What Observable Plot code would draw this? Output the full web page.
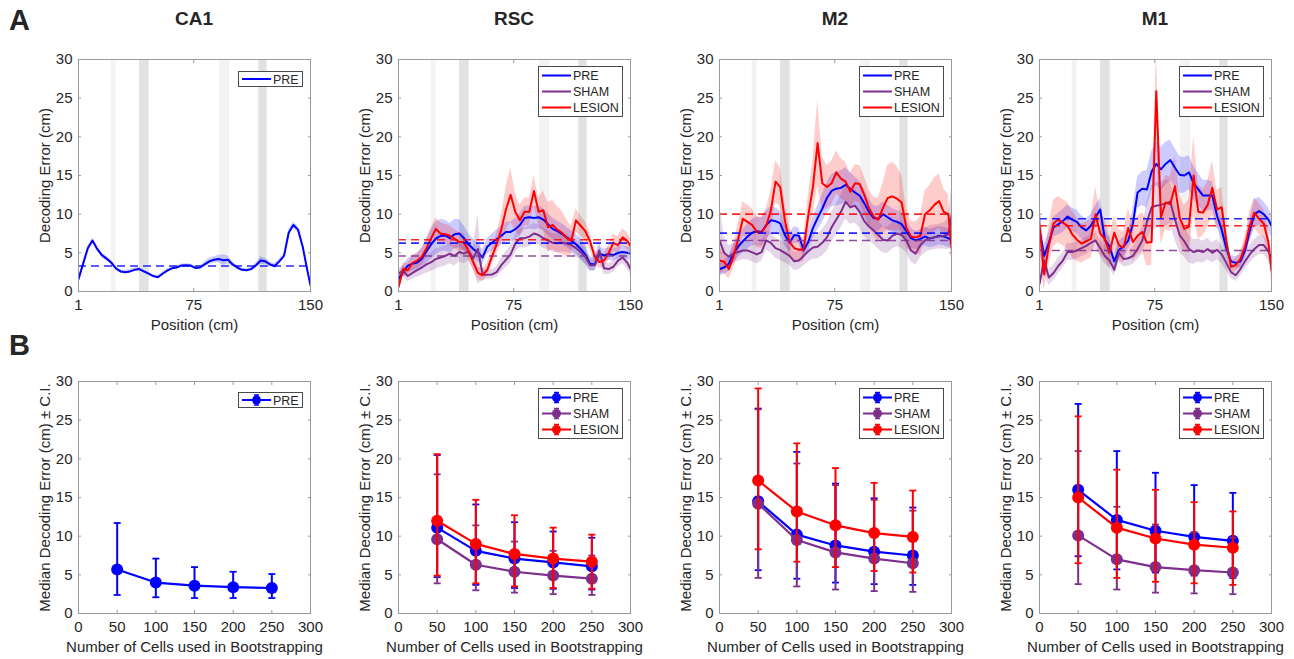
<!DOCTYPE html>
<html><head><meta charset="utf-8">
<script src="https://cdn.jsdelivr.net/npm/d3@7"></script>
<script src="https://cdn.jsdelivr.net/npm/@observablehq/plot@0.6"></script>
<style>
body{margin:0;background:#fff;}
#root{position:relative;width:1294px;height:659px;overflow:hidden;background:#fff;font-family:"Liberation Sans",Arial,Helvetica,sans-serif;color:#262626;}
.lbl{position:absolute;font-weight:bold;white-space:nowrap;}
</style></head><body><div id="root"></div>
<script>
// ---------------- data ----------------
const regions = ["CA1", "RSC", "M2", "M1"];
const groups = ["PRE", "SHAM", "LESION"];
const positions = [1,4,7,10,13,16,19,22,25,28,31,34,37,40,43,46,49,52,55,58,61,64,67,70,73,76,79,82,85,88,91,94,97,100,103,106,109,112,115,118,121,124,127,130,133,136,139,142,145,148,150];
const shadeStart = [22, 40.2, 91.7, 116.8];
const shadeEnd = [25.2, 46.4, 98.1, 122.1];
const shadeTone = ["light", "dark", "light", "dark"];
const posTicks = [1, 75, 150];
const errTicks = [0, 5, 10, 15, 20, 25, 30];
const cellTicks = [0, 50, 100, 150, 200, 250, 300];

// Panel A: decoding error by position (value, CI half-width)
const ca1Pre = [1.6,3.6,5.6,6.6,5.5,4.7,4.25,3.75,3.0,2.6, 2.5,2.6,2.8,2.9,2.6,2.3,2.0,1.85,2.3,2.7, 3.0,3.1,3.35,3.4,3.35,3.05,3.1,3.5,3.9,4.1, 4.2,4.05,4.1,3.5,3.1,2.8,2.75,2.9,3.4,4.0, 3.9,3.5,3.3,3.9,4.6,7.6,8.6,8.0,5.8,2.7, 0.8];
const ca1PreCI = [0.2,0.25,0.3,0.3,0.25,0.3,0.3,0.25,0.2,0.2, 0.2,0.2,0.2,0.2,0.2,0.2,0.2,0.2,0.2,0.2, 0.2,0.2,0.2,0.2,0.2,0.2,0.2,0.3,0.4,0.4, 0.5,0.7,0.5,0.3,0.3,0.2,0.2,0.2,0.3,0.5, 0.4,0.3,0.3,0.3,0.3,0.4,0.4,0.4,0.3,0.2, 0.2];

const rscPre = [1.6,2.5,3.35,3.6,3.75,4.25,5.2,6.1,6.85,7.2, 7.25,6.9,7.4,7.5,6.9,6.1,5.5,5.05,4.4,5.8, 6.3,6.75,7.2,7.7,7.7,8.05,8.6,9.5,9.6,9.5, 9.6,9.3,8.7,8.1,7.8,7.45,7.0,6.6,6.1,5.5, 4.8,3.6,3.5,4.9,4.65,4.85,4.7,5.0,5.1,5.0, 4.9];
const rscPreCI = [0.7,0.8,0.9,1.0,1.1,1.3,1.6,1.9,2.1,2.1, 2.0,1.9,1.9,1.8,1.6,1.4,1.3,1.2,1.0,1.0, 1.1,1.2,1.2,1.3,1.3,1.4,1.5,1.5,1.5,1.5, 1.5,1.4,1.4,1.4,1.3,1.3,1.3,1.3,1.3,1.3, 1.2,0.9,0.8,0.9,0.8,0.8,0.8,0.8,0.8,0.8, 0.8];
const rscSham = [2.3,2.7,2.0,2.4,2.75,3.1,3.5,3.8,4.2,4.4, 4.6,4.9,4.6,5.1,4.9,5.2,4.3,5.5,2.2,2.15, 2.2,2.5,3.4,4.1,4.8,6.2,6.9,6.9,7.1,7.5, 7.3,6.9,6.6,6.3,6.25,6.3,6.2,6.0,5.6,5.1, 4.5,3.4,3.4,5.3,3.0,2.9,3.2,4.0,4.4,3.7, 2.9];
const rscShamCI = [0.6,0.7,0.7,0.8,0.9,1.0,1.1,1.2,1.3,1.3, 1.3,1.3,1.3,1.3,1.3,1.2,1.5,4.5,0.8,0.6, 0.6,0.7,0.9,1.0,1.1,1.2,1.2,1.3,1.3,1.3, 1.3,1.3,1.2,1.2,1.2,1.2,1.2,1.1,1.1,1.0, 1.0,0.8,0.8,1.3,0.8,0.7,0.7,0.8,0.8,0.8, 0.7];
const rscLesion = [0.55,2.9,2.75,3.7,4.0,4.5,5.6,6.9,8.1,7.5, 7.4,7.2,6.8,6.4,6.4,5.2,3.8,2.4,2.1,2.8, 4.5,6.1,8.0,10.6,12.5,10.3,9.2,10.3,10.3,13.0, 10.3,10.5,8.3,8.6,8.0,7.6,6.9,6.6,9.2,8.5, 7.8,6.5,4.5,3.8,4.0,5.0,6.3,6.0,7.0,6.5, 5.9];
const rscLesionCI = [0.5,0.8,0.9,1.0,1.0,1.1,1.2,1.3,1.4,1.4, 1.3,1.3,1.2,1.2,1.1,1.0,0.9,0.8,0.8,0.9, 1.1,1.3,1.8,2.8,3.5,2.5,2.0,1.8,1.8,2.0, 1.8,2.5,3.2,3.2,3.0,2.8,2.4,1.8,1.5,1.3, 1.2,1.0,0.9,0.8,0.9,1.0,1.1,1.1,1.1,1.1, 1.0];

const m2Pre = [2.9,3.1,3.6,4.9,5.8,6.5,7.1,7.6,7.8,7.7, 8.6,9.2,9.1,8.8,7.3,6.3,7.3,7.2,5.3,6.4, 8.2,9.5,10.7,12.1,13.0,13.3,13.4,13.8,13.3,12.8, 12.4,11.4,10.3,9.5,9.4,10.0,9.6,9.2,9.0,8.7, 7.8,6.9,6.6,6.8,7.1,6.85,7.0,7.2,7.1,6.9, 6.6];
const m2PreCI = [0.8,0.9,1.0,1.2,1.4,1.5,1.6,1.7,1.8,1.8, 1.8,1.8,1.7,1.6,1.4,1.2,1.1,1.0,1.0,1.2, 1.4,1.6,1.8,2.0,2.1,2.2,2.2,2.2,2.1,2.0, 1.9,1.8,1.7,1.6,1.6,1.6,1.6,1.5,1.5,1.5, 1.4,1.3,1.2,1.2,1.2,1.2,1.2,1.2,1.2,1.2, 1.2];
const m2Sham = [6.6,5.0,4.5,4.9,5.1,5.3,5.3,5.05,4.8,5.1, 6.6,6.3,5.6,5.35,5.0,4.6,3.9,4.0,4.6,5.2, 5.7,5.8,6.3,7.0,8.3,9.3,10.3,11.6,10.9,11.1, 10.3,9.1,8.4,7.9,7.3,6.7,6.6,7.2,7.5,7.3, 6.6,5.3,4.9,6.0,6.6,6.9,7.0,7.1,7.2,7.4, 9.8];
const m2ShamCI = [5.0,2.0,1.4,1.3,1.2,1.2,1.2,1.2,1.2,1.2, 1.3,1.3,1.3,1.3,1.3,1.2,1.2,1.2,1.3,1.4, 1.5,1.6,1.7,1.8,1.9,2.0,2.1,2.2,2.2,2.2, 2.1,2.0,1.9,1.8,1.8,1.7,1.7,1.7,1.7,1.7, 1.6,1.5,1.5,1.6,1.6,1.6,1.6,1.6,1.7,2.0, 3.5];
const m2Lesion = [4.0,3.85,2.9,4.5,6.8,9.4,9.0,8.6,7.7,7.6, 8.5,10.5,14.2,13.5,9.2,6.4,5.6,5.4,5.4,9.8, 13.5,19.2,14.0,13.5,14.0,15.4,14.6,14.2,12.9,14.0, 13.9,12.5,10.8,9.7,9.3,10.8,12.1,12.3,12.0,11.5, 8.2,7.1,7.0,7.2,10.0,10.5,11.2,11.7,10.3,10.0, 5.7];
const m2LesionCI = [1.5,1.5,1.3,1.5,2.0,2.2,2.2,2.1,2.0,2.0, 2.2,2.5,2.7,2.5,2.2,1.8,1.6,1.5,1.6,2.5, 3.5,5.5,3.5,2.8,2.8,2.8,2.6,2.5,2.4,2.4, 2.4,2.4,2.3,2.5,2.8,3.2,4.2,4.4,4.2,3.5, 2.5,2.0,2.0,2.5,3.0,3.2,3.5,3.5,3.0,2.5, 1.5];

const m1Pre = [8.0,4.6,6.3,8.3,8.7,9.1,9.7,9.3,9.0,8.3, 7.9,8.5,9.6,10.6,6.7,5.8,3.9,5.4,5.8,6.6, 8.8,12.8,13.3,13.2,15.5,16.5,15.8,16.5,17.0,16.0, 15.1,15.0,15.4,14.0,13.2,12.4,12.4,12.4,9.8,8.0, 5.6,3.9,3.7,3.9,5.3,7.8,10.0,10.4,10.0,9.3, 8.5];
const m1PreCI = [3.0,1.5,1.3,1.3,1.4,1.5,1.5,1.5,1.5,1.5, 1.5,1.5,1.5,1.5,1.3,1.2,1.0,1.1,1.2,1.3, 1.8,2.0,2.2,2.4,2.6,2.8,2.8,2.8,2.6,2.5, 2.4,2.3,2.2,2.2,2.1,2.0,2.0,1.8,1.5,1.2, 1.0,0.8,0.8,0.9,1.2,1.5,1.8,1.8,1.6,1.5, 1.5];
const m1Sham = [1.0,4.0,1.8,2.4,3.3,4.0,5.1,5.1,5.3,5.6, 5.9,6.3,6.6,5.6,4.6,4.0,2.8,5.0,4.2,4.3, 4.6,5.5,6.6,9.0,10.9,11.1,11.2,11.4,11.6,9.3, 7.3,6.5,5.5,5.1,5.3,5.1,5.5,5.0,5.4,4.8, 3.7,2.5,2.1,2.9,3.9,4.8,5.5,6.0,6.0,5.2, 4.4];
const m1ShamCI = [1.0,1.5,1.0,1.0,1.0,1.0,1.1,1.1,1.1,1.1, 1.1,1.1,1.1,1.1,1.0,1.0,0.8,1.2,1.0,1.0, 1.1,1.4,1.8,2.4,2.8,3.0,3.0,3.0,2.8,2.6, 2.3,2.0,1.8,1.6,1.5,1.4,1.4,1.3,1.3,1.2, 1.0,0.8,0.8,0.9,1.0,1.1,1.2,1.2,1.2,1.2, 1.2];
const m1Lesion = [8.5,2.2,5.9,8.8,9.3,8.9,8.5,7.4,6.7,6.2, 6.5,6.8,10.0,7.5,6.8,5.0,7.6,6.0,5.7,8.2, 6.4,7.2,7.7,6.3,6.4,25.9,9.6,11.5,11.3,13.6, 9.6,8.1,8.4,15.0,10.3,10.2,11.2,13.4,10.6,10.9, 6.5,3.2,3.4,4.2,5.8,8.5,10.2,9.4,8.8,6.4, 2.7];
const m1LesionCI = [4.0,2.0,2.5,3.0,3.0,3.0,3.0,3.0,2.8,2.5, 2.5,2.5,3.5,2.8,2.5,2.0,2.2,2.0,2.0,2.5, 2.5,2.5,2.5,3.0,3.0,5.0,3.5,3.5,3.5,4.0, 3.0,3.0,3.5,5.0,3.5,3.0,3.0,3.5,2.5,2.5, 1.5,0.8,0.8,1.0,1.3,1.8,2.0,2.0,1.8,1.5, 1.5];

// dashed session means (PRE, SHAM, LESION)
const meansCA1 = [3.3];
const meansRSC = [6.25, 4.6, 6.7];
const meansM2 = [7.55, 6.6, 10.0];
const meansM1 = [9.4, 5.3, 8.5];

// Panel B: median error vs number of cells (value, lower CI, upper CI)
const cells = [50, 100, 150, 200, 250];
const bCA1Pre = [5.7, 4.0, 3.6, 3.4, 3.3];
const bCA1PreLo = [2.4, 2.1, 2.0, 2.0, 2.0];
const bCA1PreHi = [11.7, 7.1, 6.0, 5.4, 5.1];
const bRSCPre = [11.1, 8.1, 7.1, 6.6, 6.1];
const bRSCPreLo = [4.7, 3.7, 3.3, 3.2, 3.1];
const bRSCPreHi = [20.5, 14.1, 11.8, 10.6, 9.8];
const bRSCSham = [9.6, 6.3, 5.4, 4.9, 4.5];
const bRSCShamLo = [3.9, 3.0, 2.7, 2.5, 2.4];
const bRSCShamHi = [18.0, 11.4, 9.3, 8.1, 7.5];
const bRSCLesion = [12.0, 9.0, 7.7, 7.1, 6.7];
const bRSCLesionLo = [4.9, 3.9, 3.5, 3.3, 3.2];
const bRSCLesionHi = [20.6, 14.7, 12.7, 11.1, 10.2];
const bM2Pre = [14.5, 10.2, 8.8, 8.0, 7.5];
const bM2PreLo = [5.6, 4.5, 4.0, 3.8, 3.7];
const bM2PreHi = [26.5, 20.9, 16.8, 14.9, 13.7];
const bM2Sham = [14.2, 9.5, 7.9, 7.1, 6.5];
const bM2ShamLo = [4.6, 3.5, 3.1, 2.9, 2.8];
const bM2ShamHi = [26.4, 19.4, 16.6, 14.7, 13.3];
const bM2Lesion = [17.2, 13.2, 11.4, 10.4, 9.9];
const bM2LesionLo = [8.3, 6.7, 6.0, 5.5, 5.3];
const bM2LesionHi = [29.1, 22.0, 18.8, 16.9, 15.9];
const bM1Pre = [16.0, 12.1, 10.7, 9.9, 9.4];
const bM1PreLo = [7.4, 5.7, 5.3, 4.9, 4.6];
const bM1PreHi = [27.1, 21.0, 18.2, 16.6, 15.6];
const bM1Sham = [10.1, 7.0, 6.0, 5.6, 5.3];
const bM1ShamLo = [3.8, 3.1, 2.7, 2.6, 2.5];
const bM1ShamHi = [21.0, 13.8, 11.5, 10.5, 9.8];
const bM1Lesion = [15.0, 11.1, 9.7, 8.9, 8.5];
const bM1LesionLo = [6.5, 4.6, 4.1, 3.9, 3.7];
const bM1LesionHi = [25.5, 18.6, 16.0, 14.4, 13.2];

// ---------------- assembly ----------------
const seriesA = [
  [[ca1Pre, ca1PreCI]],
  [[rscPre, rscPreCI], [rscSham, rscShamCI], [rscLesion, rscLesionCI]],
  [[m2Pre, m2PreCI], [m2Sham, m2ShamCI], [m2Lesion, m2LesionCI]],
  [[m1Pre, m1PreCI], [m1Sham, m1ShamCI], [m1Lesion, m1LesionCI]]
];
const meansA = [meansCA1, meansRSC, meansM2, meansM1];
const seriesB = [
  [[bCA1Pre, bCA1PreLo, bCA1PreHi]],
  [[bRSCPre, bRSCPreLo, bRSCPreHi], [bRSCSham, bRSCShamLo, bRSCShamHi], [bRSCLesion, bRSCLesionLo, bRSCLesionHi]],
  [[bM2Pre, bM2PreLo, bM2PreHi], [bM2Sham, bM2ShamLo, bM2ShamHi], [bM2Lesion, bM2LesionLo, bM2LesionHi]],
  [[bM1Pre, bM1PreLo, bM1PreHi], [bM1Sham, bM1ShamLo, bM1ShamHi], [bM1Lesion, bM1LesionLo, bM1LesionHi]]
];

const FONT = '"Liberation Sans", Arial, Helvetica, sans-serif';
const INK = "#262626";
const AXIS = "#9a9a9a";
const COLORS = {PRE: "#0000ff", SHAM: "#7e2f8e", LESION: "#ff0000"};
const plotLefts = [78, 398, 719, 1039];
const rowTops = [59, 381];
const PW = 232, PH = 232;
const ML = 62, MR = 12, MT = 10, MB = 58;
const root = document.getElementById("root");

const shades = shadeStart.map((s, i) => ({start: s, end: shadeEnd[i], tone: shadeTone[i]}));

const capSymbol = {draw(ctx, size) { const w = Math.sqrt(size / Math.PI); ctx.moveTo(-w, 0); ctx.lineTo(w, 0); }};

function place(node, left, top) {
  node.style.position = "absolute";
  node.style.left = left + "px";
  node.style.top = top + "px";
  root.appendChild(node);
}

function axes(xTicks, xLabel, yLabel) {
  return [
    Plot.axisX({anchor: "bottom", ticks: xTicks, tickSize: -3, tickPadding: 11, stroke: AXIS, fill: INK, label: xLabel, labelAnchor: "center", labelOffset: 38, labelArrow: "none"}),
    Plot.axisX({anchor: "top", ticks: xTicks, tickSize: -3, tickFormat: () => "", label: null, stroke: AXIS}),
    Plot.axisY({anchor: "left", ticks: errTicks, tickSize: -3, tickPadding: 9, stroke: AXIS, fill: INK, label: yLabel, labelAnchor: "center", labelOffset: 39, labelArrow: "none"}),
    Plot.axisY({anchor: "right", ticks: errTicks, tickSize: -3, tickFormat: () => "", label: null, stroke: AXIS}),
    Plot.frame({stroke: AXIS, strokeWidth: 1})
  ];
}

function basePlot(xDomain, marks) {
  return Plot.plot({
    width: PW + ML + MR, height: PH + MT + MB,
    marginLeft: ML, marginRight: MR, marginTop: MT, marginBottom: MB,
    style: {fontFamily: FONT, fontSize: "15px", color: INK, background: "transparent", overflow: "visible"},
    x: {domain: xDomain},
    y: {domain: [0, 30]},
    marks
  });
}

function legend(left, top, width, names, withErr) {
  const n = names.length;
  const h = n === 1 ? 15 : 50;
  const svg = d3.create("svg").attr("width", width + 2).attr("height", h + 2);
  svg.append("rect").attr("x", 0.5).attr("y", 0.5).attr("width", width).attr("height", h)
    .attr("fill", "#fff").attr("stroke", "#4a4a4a").attr("stroke-width", 1);
  names.forEach((g, i) => {
    const cy = (h - 16 * n) / 2 + 8.5 + 16 * i;
    const c = COLORS[g];
    svg.append("line").attr("x1", 4).attr("x2", 33).attr("y1", cy).attr("y2", cy).attr("stroke", c).attr("stroke-width", 2);
    if (withErr) {
      svg.append("line").attr("x1", 18.5).attr("x2", 18.5).attr("y1", cy - 5).attr("y2", cy + 5).attr("stroke", c).attr("stroke-width", 2);
      svg.append("line").attr("x1", 16).attr("x2", 21).attr("y1", cy - 5).attr("y2", cy - 5).attr("stroke", c).attr("stroke-width", 1.5);
      svg.append("line").attr("x1", 16).attr("x2", 21).attr("y1", cy + 5).attr("y2", cy + 5).attr("stroke", c).attr("stroke-width", 1.5);
      svg.append("circle").attr("cx", 18.5).attr("cy", cy).attr("r", 4.5).attr("fill", c);
    }
    svg.append("text").attr("x", 35).attr("y", cy).attr("dy", "0.36em").attr("fill", INK)
      .style("font-family", FONT).style("font-size", "12.5px").text(g);
  });
  place(svg.node(), left, top);
}

regions.forEach((region, r) => {
  const left = plotLefts[r];
  const names = groups.slice(0, seriesA[r].length);

  // ---- Panel A ----
  const marksA = [
    Plot.rectX(shades.filter(d => d.tone === "light"), {x1: "start", x2: "end", fill: "#f3f3f3"}),
    Plot.rectX(shades.filter(d => d.tone === "dark"), {x1: "start", x2: "end", fill: "#e2e2e2"})
  ];
  const rowsA = seriesA[r].map(([vals, ci]) => positions.map((p, i) => ({p, v: vals[i], lo: vals[i] - ci[i], hi: vals[i] + ci[i]})));
  rowsA.forEach((rows, k) => {
    marksA.push(Plot.areaY(rows, {x: "p", y1: "lo", y2: "hi", fill: COLORS[names[k]], fillOpacity: 0.2, clip: true}));
  });
  rowsA.forEach((rows, k) => {
    marksA.push(Plot.lineY(rows, {x: "p", y: "v", stroke: COLORS[names[k]], strokeWidth: 2, clip: true}));
  });
  meansA[r].forEach((m, k) => {
    marksA.push(Plot.ruleY([m], {stroke: COLORS[names[k]], strokeWidth: 1.6, strokeDasharray: "8,5", strokeOpacity: 0.85}));
  });
  marksA.push(...axes(posTicks, "Position (cm)", "Decoding Error (cm)"));
  place(basePlot([1, 150], marksA), left - ML, rowTops[0] - MT);

  // ---- Panel B ----
  const marksB = [];
  seriesB[r].forEach(([vals, lo, hi], k) => {
    const c = COLORS[names[k]];
    const rows = cells.map((n, i) => ({n, v: vals[i], lo: lo[i], hi: hi[i]}));
    marksB.push(
      Plot.line(rows, {x: "n", y: "v", stroke: c, strokeWidth: 2.2}),
      Plot.ruleX(rows, {x: "n", y1: "lo", y2: "hi", stroke: c, strokeWidth: 2}),
      Plot.dot(rows, {x: "n", y: "lo", symbol: capSymbol, r: 3.5, stroke: c, strokeWidth: 1.8, fill: "none"}),
      Plot.dot(rows, {x: "n", y: "hi", symbol: capSymbol, r: 3.5, stroke: c, strokeWidth: 1.8, fill: "none"}),
      Plot.dot(rows, {x: "n", y: "v", r: 6, fill: c, stroke: "none"})
    );
  });
  marksB.push(...axes(cellTicks, "Number of Cells used in Bootstrapping", "Median Decoding Error (cm) \u00b1 C.I."));
  place(basePlot([0, 300], marksB), left - ML, rowTops[1] - MT);

  // legends
  const lw = names.length === 1 ? 64 : 84;
  legend(left + PW - 8 - lw, rowTops[0] + (names.length === 1 ? 12 : 7), lw, names, false);
  legend(left + PW - 8 - lw, rowTops[1] + (names.length === 1 ? 11 : 7), lw, names, true);

  // column title
  const t = document.createElement("div");
  t.className = "lbl";
  t.textContent = region;
  t.style.fontSize = "19px";
  t.style.width = PW + "px";
  t.style.textAlign = "center";
  place(t, left, 8);
});

["A", "B"].forEach((letter, i) => {
  const d = document.createElement("div");
  d.className = "lbl";
  d.textContent = letter;
  d.style.fontSize = "29px";
  place(d, 9, i === 0 ? 4 : 329);
});
</script></body></html>
